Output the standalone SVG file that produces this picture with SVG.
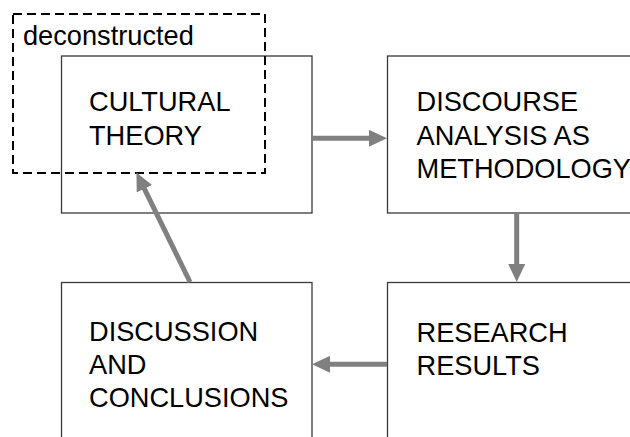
<svg xmlns="http://www.w3.org/2000/svg" width="630" height="437" viewBox="0 0 630 437">
  <style>
    .box { fill: #ffffff; stroke: #3a3a3a; stroke-width: 1.3; }
    .frame { fill: none; stroke: #000000; stroke-width: 2; stroke-dasharray: 9 5; }
    .label { font-family: "Liberation Sans", Arial, sans-serif; font-size: 27.2px; fill: #000000; }
    .conn { stroke: #808080; stroke-width: 5; fill: none; marker-end: url(#head); }
  </style>
  <defs>
    <marker id="head" markerUnits="userSpaceOnUse" markerWidth="18" markerHeight="17" refX="4" refY="8.5" orient="auto" viewBox="0 0 18 17">
      <path d="M0,0 L18,8.5 L0,17 Z" fill="#808080"/>
    </marker>
  </defs>

  <rect width="630" height="437" fill="#ffffff"/>

  <g id="cultural-theory">
    <rect class="box" x="61.5" y="56" width="250.5" height="157"/>
    <text class="label" x="89" y="111">CULTURAL</text>
    <text class="label" x="89" y="145">THEORY</text>
  </g>

  <g id="discourse-analysis">
    <rect class="box" x="387.5" y="56" width="260" height="157"/>
    <text class="label" x="416.5" y="111">DISCOURSE</text>
    <text class="label" x="416.5" y="144.5">ANALYSIS AS</text>
    <text class="label" x="416.5" y="177.5">METHODOLOGY</text>
  </g>

  <g id="research-results">
    <rect class="box" x="387.5" y="282.5" width="260" height="170"/>
    <text class="label" x="416.5" y="341.5">RESEARCH</text>
    <text class="label" x="416.5" y="374.5">RESULTS</text>
  </g>

  <g id="discussion-conclusions">
    <rect class="box" x="61.5" y="282.5" width="250.5" height="170"/>
    <text class="label" x="89" y="341">DISCUSSION</text>
    <text class="label" x="89" y="374">AND</text>
    <text class="label" x="89" y="407">CONCLUSIONS</text>
  </g>

  <g id="deconstructed">
    <rect class="frame" x="13" y="14" width="252" height="159"/>
    <text class="label" x="23" y="44.5">deconstructed</text>
  </g>

  <g id="connectors">
    <line class="conn" x1="312" y1="138.3" x2="373" y2="138.3"/>
    <line class="conn" x1="516.7" y1="213" x2="516.7" y2="268"/>
    <line class="conn" x1="387" y1="364.3" x2="326" y2="364.3"/>
    <line class="conn" x1="190" y1="282" x2="142.6" y2="185.1"/>
  </g>
</svg>
